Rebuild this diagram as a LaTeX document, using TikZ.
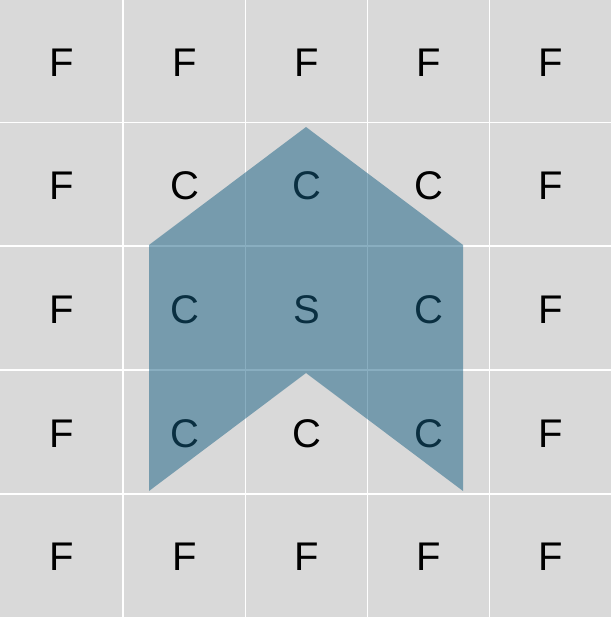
\documentclass[tikz,border=0pt]{standalone}
\usepackage{fontspec}
\setmainfont{Liberation Sans}
\definecolor{cellgray}{HTML}{D9D9D9}
\definecolor{shapeblue}{HTML}{155F83}
\begin{document}
\begin{tikzpicture}[x=1pt,y=-1pt,
  lbl/.style={font=\fontsize{40}{48}\selectfont, text=black, inner sep=0pt, anchor=center},
  gridline/.style={draw=white, line width=1.3pt},
  chevron/.style={fill=shapeblue, fill opacity=0.5, draw=none}]
\fill[cellgray] (0,0) rectangle (611,617);
\useasboundingbox (0,0) rectangle (611,617);
\foreach \x in {123,245.5,367.3,489.3} {
  \draw[gridline] (\x,0) -- (\x,617);
}
\foreach \y in {122.3,246,370,494} {
  \draw[gridline] (0,\y) -- (611,\y);
}
% labels: row r, column c
\foreach \r/\yy/\row in {0/62.5/{F,F,F,F,F},1/185.5/{F,C,C,C,F},2/309.5/{F,C,S,C,F},3/433.5/{F,C,C,C,F},4/557/{F,F,F,F,F}} {
  \foreach \t/\xx [count=\c from 0] in \row {
  }
}
\foreach \r/\yy in {0/62.5,1/185.5,2/309.5,3/433.5,4/557} {
  \foreach \c/\xx in {0/62,1/184.5,2/306.5,3/428.5,4/550.5} {
    \coordinate (c\r\c) at (\xx,\yy);
  }
}
\foreach \r/\row in {0/{F,F,F,F,F},1/{F,C,C,C,F},2/{F,C,S,C,F},3/{F,C,C,C,F},4/{F,F,F,F,F}} {
  \foreach \t [count=\c from 0] in \row {
    \node[lbl] (n\r\c) at (c\r\c) {\t};
  }
}
\coordinate (p1) at (149,245);
\coordinate (p2) at (306,127);
\coordinate (p3) at (463,245);
\coordinate (p4) at (463,491);
\coordinate (p5) at (306,373);
\coordinate (p6) at (149,491);
\path[chevron] (p1) -- (p2) -- (p3) -- (p4) -- (p5) -- (p6) -- cycle;
\end{tikzpicture}
\end{document}
